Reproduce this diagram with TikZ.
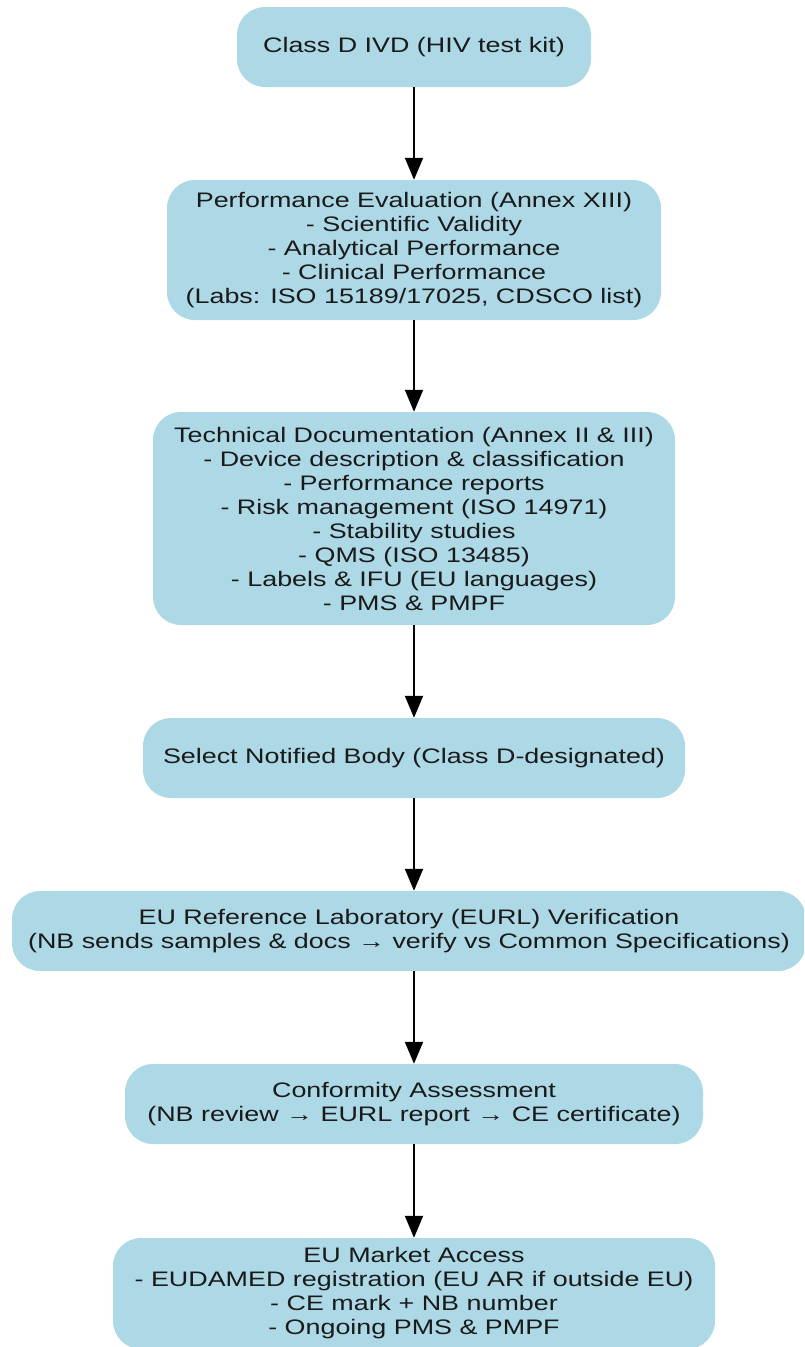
\documentclass[tikz,border=0pt]{standalone}
\usepackage{fontspec}
\setmainfont{Liberation Sans}[FakeStretch=1.28]
\usetikzlibrary{arrows.meta}
\definecolor{boxblue}{HTML}{ADD8E6}
\definecolor{inkgray}{HTML}{1A1A1A}
\tikzset{
  stepbox/.style={fill=boxblue, draw=none, rounded corners=28pt, inner sep=0pt,
    align=center, text=inkgray, font=\fontsize{21}{24}\selectfont},
  flow/.style={draw=black, line width=1.9pt,
    -{Triangle[length=22pt,width=18pt]}}
}
\begin{document}
\begin{tikzpicture}[x=1pt,y=-1pt]
\useasboundingbox (0,0) rectangle (804,1347);
\begin{scope}
\clip (0,0) rectangle (804,1347);
\node[stepbox, minimum width=354pt, minimum height=80pt] (kit) at (414,47)
  {Class D IVD (HIV test kit)};
\node[stepbox, minimum width=494pt, minimum height=140pt] (perf) at (414,250)
  {Performance Evaluation (Annex XIII)\\- Scientific Validity\\- Analytical Performance\\- Clinical Performance\\(Labs: ISO 15189/17025, CDSCO list)};
\node[stepbox, minimum width=522pt, minimum height=213pt] (tech) at (414,518.5)
  {Technical Documentation (Annex II \& III)\\- Device description \& classification\\- Performance reports\\- Risk management (ISO 14971)\\- Stability studies\\- QMS (ISO 13485)\\- Labels \& IFU (EU languages)\\- PMS \& PMPF};
\node[stepbox, minimum width=542pt, minimum height=80pt] (nb) at (414,758)
  {Select Notified Body (Class D-designated)};
\node[stepbox, minimum width=794pt, minimum height=80pt] (eurl) at (409,931)
  {EU Reference Laboratory (EURL) Verification\\(NB sends samples \& docs → verify vs Common Specifications)};
\node[stepbox, minimum width=578pt, minimum height=80pt] (conf) at (414,1104)
  {Conformity Assessment\\(NB review → EURL report → CE certificate)};
\node[stepbox, minimum width=602pt, minimum height=111pt] (market) at (414,1293.5)
  {EU Market Access\\- EUDAMED registration (EU AR if outside EU)\\- CE mark + NB number\\- Ongoing PMS \& PMPF};
\end{scope}
\draw[flow] (kit.south) -- (perf.north);
\draw[flow] (perf.south) -- (tech.north);
\draw[flow] (tech.south) -- (nb.north);
\draw[flow] (nb.south) -- (eurl.north -| nb.south);
\draw[flow] (eurl.south -| conf.north) -- (conf.north);
\draw[flow] (conf.south) -- (market.north);
\end{tikzpicture}
\end{document}
